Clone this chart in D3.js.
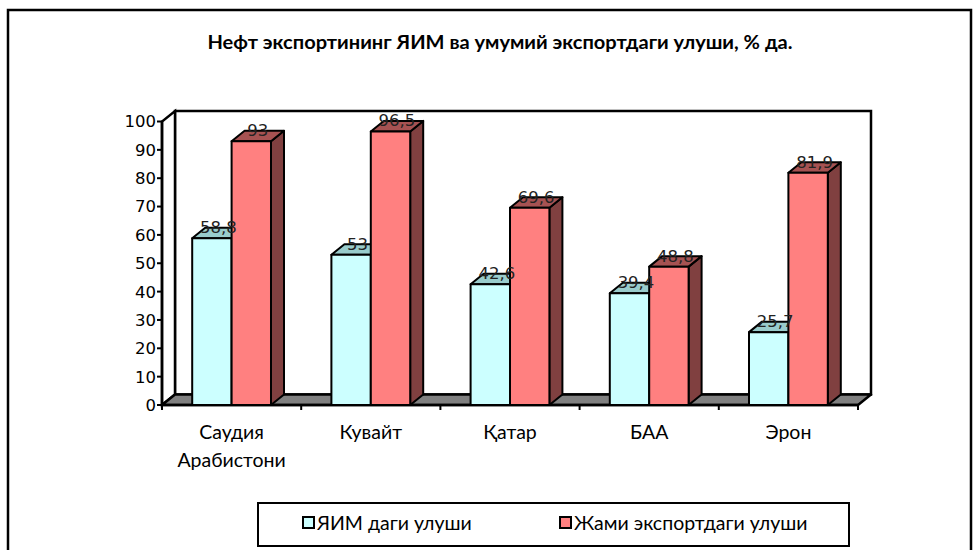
<!DOCTYPE html>
<html><head><meta charset="utf-8">
<script src="https://cdn.jsdelivr.net/npm/d3@7"></script>
<style>body{margin:0;background:#fff}svg{display:block}</style>
</head><body>
<svg id="c" width="973" height="550"></svg>
<script>
const categories = [["Саудия","Арабистони"],["Кувайт"],["Қатар"],["БАА"],["Эрон"]];
const seriesNames = ["ЯИМ даги улуши","Жами экспортдаги улуши"];
const gdpShare = [58.8, 53, 42.6, 39.4, 25.7];
const exportShare = [93, 96.5, 69.6, 48.8, 81.9];
const yTicks = [0,10,20,30,40,50,60,70,80,90,100];
const title = "Нефт экспортининг ЯИМ ва умумий экспортдаги улуши, % да.";

const fronts = ["#CCFFFF","#FF8080"], tops = ["#99CCCC","#A65252"], sides = ["#669999","#804040"];
const svg = d3.select("#c");
const X0=162, X1=858, Y0=405, Y100=121.5, DX=13, DY=-10.5;
const x = d3.scaleBand().domain(d3.range(categories.length)).range([X0,X1]).paddingInner(0).paddingOuter(0);
const y = d3.scaleLinear().domain([0,100]).range([Y0,Y100]);

// outer border
svg.append("rect").attr("x",8).attr("y",10).attr("width",963).attr("height",560)
  .attr("fill","none").attr("stroke","#000").attr("stroke-width",2.5);

svg.append("text").attr("x",500).attr("y",49).attr("text-anchor","middle")
  .attr("font-family","Lato, 'Open Sans', sans-serif").attr("font-weight","bold").attr("font-size",19)
  .attr("textLength",585).attr("lengthAdjust","spacingAndGlyphs")
  .text(title);

const g = svg.append("g");
const line = d3.line();
// back wall
g.append("path").attr("d",line([[X0+DX,y(0)+DY],[X0+DX,y(100)+DY],[X1+DX,y(100)+DY],[X1+DX,y(0)+DY]])+"Z")
  .attr("fill","#fff").attr("stroke","#000").attr("stroke-width",2.5);
// side wall
g.append("path").attr("d",line([[X0,y(0)],[X0,y(100)],[X0+DX,y(100)+DY],[X0+DX,y(0)+DY]])+"Z")
  .attr("fill","#fff").attr("stroke","#000").attr("stroke-width",2.5);
// floor
g.append("path").attr("d",line([[X0,y(0)],[X1,y(0)],[X1+DX,y(0)+DY],[X0+DX,y(0)+DY]])+"Z")
  .attr("fill","#808080").attr("stroke","#000").attr("stroke-width",2.5).attr("stroke-linejoin","round");

// y axis ticks & labels
yTicks.forEach(t=>{
  g.append("line").attr("x1",X0-5).attr("x2",X0).attr("y1",y(t)).attr("y2",y(t)).attr("stroke","#000").attr("stroke-width",2);
  g.append("text").attr("x",X0-6).attr("y",y(t)).attr("dy","0.36em").attr("text-anchor","end")
    .attr("font-family","'DejaVu Sans', Verdana, sans-serif").attr("font-size",16.5).attr("fill","#000").text(t);
});
// x ticks
d3.range(categories.length+1).forEach(i=>{
  const xx = i<categories.length ? x(i) : X1;
  g.append("line").attr("x1",xx).attr("x2",xx).attr("y1",Y0).attr("y2",Y0+5).attr("stroke","#000").attr("stroke-width",2);
});
g.append("line").attr("x1",X0).attr("x2",X1).attr("y1",Y0).attr("y2",Y0).attr("stroke","#000").attr("stroke-width",2.5);
g.append("line").attr("x1",X0).attr("x2",X0).attr("y1",Y0).attr("y2",Y100).attr("stroke","#000").attr("stroke-width",2.5);

// bars
const bw = x.bandwidth()/(2+1.533);
const gap = (x.bandwidth()-2*bw)/2;
const labels=[];
categories.forEach((c,i)=>{
  [gdpShare[i],exportShare[i]].forEach((v,s)=>{
    const bx = x(i)+gap+s*bw, top=y(v), bot=y(0);
    const bg = g.append("g").attr("stroke","#000").attr("stroke-width",2).attr("stroke-linejoin","round");
    bg.append("path").attr("d",line([[bx+bw,top],[bx+bw+DX,top+DY],[bx+bw+DX,bot+DY],[bx+bw,bot]])+"Z").attr("fill",sides[s]);
    bg.append("path").attr("d",line([[bx,top],[bx+DX,top+DY],[bx+bw+DX,top+DY],[bx+bw,top]])+"Z").attr("fill",tops[s]);
    bg.append("rect").attr("x",bx).attr("y",top).attr("width",bw).attr("height",bot-top).attr("fill",fronts[s]);
    labels.push({x:bx+bw/2+DX/2, y:top-5, t:String(v).replace(".",",")});
  });
});
labels.forEach(l=>{
  g.append("text").attr("x",l.x).attr("y",l.y).attr("text-anchor","middle")
    .attr("font-family","'DejaVu Sans', Verdana, sans-serif").attr("font-size",16.5).attr("fill","#222").text(l.t);
});

// category labels
categories.forEach((c,i)=>{
  const t = g.append("text").attr("text-anchor","middle").attr("font-family","Lato, 'Open Sans', sans-serif").attr("font-size",19.5);
  c.forEach((ln,k)=>t.append("tspan").attr("x",x(i)+x.bandwidth()/2).attr("y",439+k*28).text(ln));
});

// legend
svg.append("rect").attr("x",258).attr("y",503).attr("width",591).attr("height",43).attr("fill","#fff").attr("stroke","#000").attr("stroke-width",2);
const lx=[303,560];
seriesNames.forEach((n,s)=>{
  svg.append("rect").attr("x",lx[s]).attr("y",517).attr("width",11).attr("height",11).attr("fill",fronts[s]).attr("stroke","#000").attr("stroke-width",2);
  svg.append("text").attr("x",lx[s]+14).attr("y",530).attr("font-family","Lato, 'Open Sans', sans-serif").attr("font-size",19.5).text(n);
});
</script>
</body></html>
